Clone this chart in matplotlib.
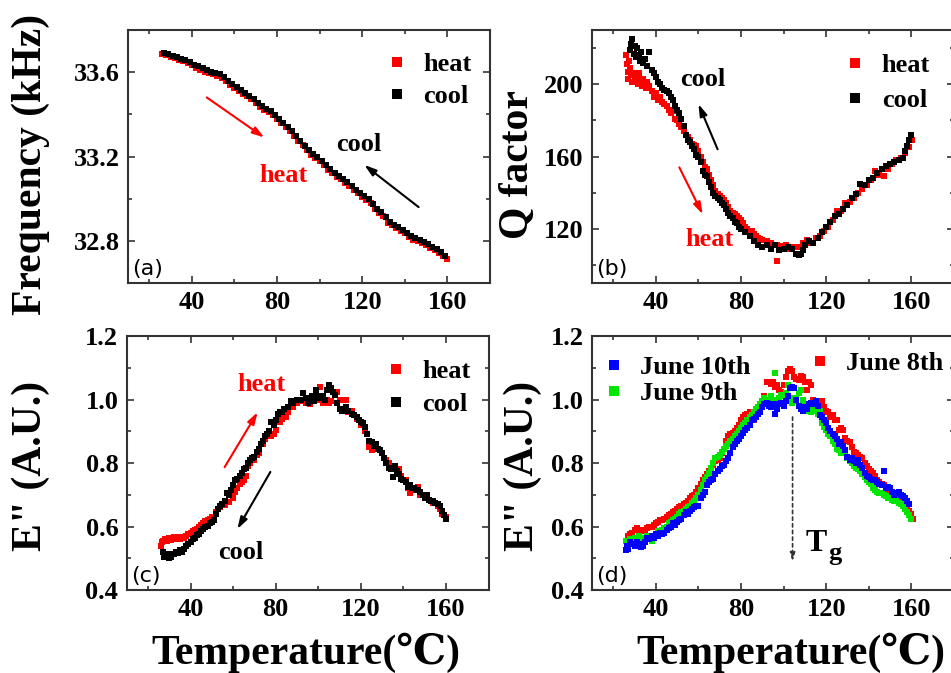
import matplotlib
matplotlib.use("Agg")
import matplotlib.pyplot as plt
from matplotlib.ticker import MultipleLocator

plt.rcParams["font.family"] = ["Liberation Serif", "DejaVu Serif", "DejaVu Sans"]
plt.rcParams["font.weight"] = "bold"

# ---- (a) resonance frequency, kHz ----
t_heat_a = [26, 28, 30, 32, 34, 36, 38, 40, 42, 44, 46, 48, 50, 52, 54, 56, 58, 60,
            62, 64, 66, 68, 70, 72, 74, 76, 78, 80, 82, 84, 86, 88, 90, 92, 94, 96,
            98, 100, 102, 104, 106, 108, 110, 112, 114, 116, 118, 120, 122, 124, 126,
            128, 130, 132, 134, 136, 138, 140, 142, 144, 146, 148, 150, 152, 154, 156,
            158, 160]
f_heat = [33.688, 33.681, 33.673, 33.666, 33.658, 33.651, 33.642, 33.632, 33.622,
          33.612, 33.603, 33.595, 33.589, 33.584, 33.574, 33.557, 33.540, 33.525,
          33.512, 33.498, 33.485, 33.471, 33.453, 33.436, 33.421, 33.413, 33.398,
          33.378, 33.358, 33.338, 33.319, 33.298, 33.275, 33.253, 33.231, 33.209,
          33.193, 33.181, 33.161, 33.138, 33.120, 33.103, 33.091, 33.075, 33.058,
          33.041, 33.025, 33.009, 32.995, 32.980, 32.953, 32.933, 32.920, 32.886,
          32.873, 32.859, 32.848, 32.836, 32.820, 32.806, 32.798, 32.790, 32.778,
          32.767, 32.755, 32.743, 32.728, 32.712]
t_cool_a = [27, 29, 31, 33, 35, 37, 39, 41, 43, 45, 47, 49, 51, 53, 55, 57, 59, 61,
            63, 65, 67, 69, 71, 73, 75, 77, 79, 81, 83, 85, 87, 89, 91, 93, 95, 97,
            99, 101, 103, 105, 107, 109, 111, 113, 115, 117, 119, 121, 123, 125, 127,
            129, 131, 133, 135, 137, 139, 141, 143, 145, 147, 149, 151, 153, 155, 157,
            159]
f_cool = [33.692, 33.686, 33.679, 33.671, 33.664, 33.656, 33.646, 33.636, 33.627,
          33.618, 33.609, 33.602, 33.597, 33.591, 33.578, 33.560, 33.543, 33.529,
          33.515, 33.501, 33.488, 33.472, 33.454, 33.438, 33.427, 33.416, 33.398,
          33.378, 33.358, 33.339, 33.319, 33.297, 33.274, 33.252, 33.230, 33.211,
          33.197, 33.181, 33.160, 33.140, 33.122, 33.107, 33.093, 33.077, 33.060,
          33.043, 33.027, 33.012, 32.998, 32.977, 32.953, 32.937, 32.913, 32.889,
          32.876, 32.864, 32.852, 32.838, 32.823, 32.812, 32.804, 32.794, 32.783,
          32.771, 32.759, 32.746, 32.730]

# ---- (b) Q factor ----
t_heat_b = [26, 26.5, 27, 27, 27.5, 28, 28.5, 29, 29.5, 30, 31, 31.5, 32, 33, 33.5, 34,
            35, 35.5, 36, 37, 38, 39, 40, 41, 42, 43, 44, 45, 46, 47, 48, 49, 50, 51,
            52, 53, 54, 55, 56, 57, 58, 59, 60, 61, 62, 63, 64, 65, 66, 67, 68, 69, 70,
            71, 72, 73, 74, 75, 76, 77, 78, 79, 80, 81, 82, 83, 84, 85, 86, 87, 88, 89,
            90, 92, 94, 96.7, 97, 99, 101, 103, 105, 107, 109, 111, 113, 115, 117, 119,
            121, 123, 125, 127, 129, 131, 133, 135, 137, 139, 141, 143, 145, 147, 149,
            151, 153, 155, 157, 159, 160.5]
q_heat = [216, 211, 207, 203, 213, 209, 205, 201, 206, 203, 204, 200, 206, 202, 199,
          203, 200, 198, 201, 199, 196, 193, 195, 191, 193, 190, 189, 188, 186, 184,
          185, 181, 180, 178, 176.5, 174, 172, 171, 169, 167, 166.5, 166, 163, 160,
          157, 154, 153, 150, 147, 144, 141, 139, 138, 137, 136, 134, 132, 130, 129,
          128, 127, 126, 125, 123, 121, 120, 119, 118.5, 117, 116, 115, 114.5, 114,
          113, 112, 102, 111, 110.5, 111, 109, 110, 110, 112, 114, 112, 115, 116, 119,
          121, 125, 130, 130, 134, 135, 137, 140, 142, 144, 147, 152, 150, 149, 153,
          156, 158, 159, 162, 165, 169]
t_cool_b = [28, 28.5, 29, 29.5, 30, 30.5, 31, 32, 32.5, 33, 34, 35, 36, 37, 38, 39, 40,
            41, 42, 43, 44, 45, 46, 47, 48, 49, 50, 51, 52, 53, 54, 55, 56, 57, 58, 59,
            60, 61, 62, 63, 64, 65, 66, 67, 68, 69, 70, 71, 72, 73, 74, 75, 76, 77, 78,
            79, 80, 82, 84, 86, 88, 90, 92, 94, 96, 98, 100, 102, 104, 106, 107, 108,
            109, 110, 112, 114, 116, 118, 120, 122, 124, 126, 128, 130, 132, 134, 136,
            138, 140, 142, 144, 146, 148, 150, 152, 154, 156, 157, 158, 159, 160]
q_cool = [219, 222, 225, 217, 221, 215, 220, 216, 213, 218, 212, 214, 210, 218, 208,
          206, 204, 201, 200, 198, 197, 196, 195, 193, 191, 188, 186, 184, 181, 177,
          172, 169, 168, 166, 164, 161, 160, 157, 152, 150, 149, 146, 143, 140, 138,
          137, 136, 134, 133, 131, 129, 127, 126, 124, 123, 121, 120, 118, 116, 113,
          111, 110, 111, 109, 111, 108, 109, 110, 109, 106, 105.5, 106, 108, 111, 113,
          112, 115, 118, 121, 124, 127, 128, 131, 133, 137, 139, 145, 144, 147, 148,
          151, 153, 155, 156, 157, 158, 159, 163, 166, 169, 172]

# ---- (c) loss modulus, heat / cool ----
t_heat_c = [26, 26.5, 27, 28, 29, 30, 31, 32, 33, 34, 35, 36, 37, 38, 39, 40, 41, 42,
            43, 44, 45, 46, 47, 48, 49, 50, 52, 54, 56, 58, 60, 61, 62, 63, 64, 65, 66,
            67, 68, 70, 71, 72, 74, 75, 76, 78, 79, 80, 82, 83, 84, 85, 86, 88, 90, 92,
            94, 96, 98, 100, 101, 102, 104, 105, 106, 108, 109, 110, 112, 113, 114, 116,
            117, 118, 120, 121, 122, 124, 125, 127, 128, 130, 132, 133, 135, 136, 138,
            139, 141, 142, 143, 145, 147, 148, 150, 151, 153, 154, 156, 157, 158, 159,
            160]
e_heat_c = [0.54, 0.55, 0.555, 0.56, 0.553, 0.565, 0.558, 0.567, 0.562, 0.566, 0.56,
            0.568, 0.565, 0.57, 0.575, 0.58, 0.586, 0.59, 0.593, 0.6, 0.605, 0.612,
            0.618, 0.62, 0.625, 0.63, 0.645, 0.66, 0.667, 0.678, 0.69, 0.71, 0.72,
            0.735, 0.74, 0.745, 0.76, 0.79, 0.8, 0.81, 0.825, 0.83, 0.86, 0.875, 0.885,
            0.885, 0.89, 0.905, 0.93, 0.94, 0.95, 0.945, 0.96, 0.975, 0.99, 0.995, 0.99,
            0.985, 0.995, 1.0, 1.04, 0.99, 1.0, 0.99, 0.995, 1.02, 1.025, 1.0, 0.97, 1.0,
            0.96, 0.965, 0.95, 0.94, 0.92, 0.92, 0.9, 0.85, 0.84, 0.86, 0.845, 0.83,
            0.81, 0.8, 0.79, 0.79, 0.78, 0.76, 0.745, 0.72, 0.705, 0.715, 0.725, 0.7,
            0.695, 0.69, 0.68, 0.675, 0.665, 0.655, 0.64, 0.635, 0.63]
t_cool_c = [27, 27.5, 28, 29, 30, 30.5, 31, 32, 33, 34, 35, 36, 37, 38, 39, 40, 41, 42,
            43, 44, 45, 46, 47, 48, 49, 50, 51, 52, 53, 54, 55, 56, 57, 58, 59, 60, 61,
            62, 63, 64, 65, 66, 67, 68, 69, 70, 71, 72, 73, 74, 75, 76, 77, 78, 79, 80,
            81, 82, 83, 84, 86, 87, 88, 90, 92, 93, 94, 95, 96, 97, 98, 99, 100, 101,
            102, 103, 104, 105, 106, 107, 108, 109, 110, 111, 113, 114, 116, 117, 118,
            119, 120, 121, 122, 123, 124, 125, 126, 127, 128, 129, 130, 131, 132, 133,
            134, 135, 136, 137, 138, 139, 140, 141, 142, 143, 144, 145, 146, 147, 148,
            149, 150, 151, 152, 153, 154, 155, 156, 157, 158, 159, 160]
e_cool_c = [0.52, 0.505, 0.515, 0.51, 0.5, 0.512, 0.505, 0.515, 0.52, 0.518, 0.525,
            0.52, 0.53, 0.54, 0.545, 0.55, 0.56, 0.565, 0.572, 0.578, 0.585, 0.592, 0.6,
            0.603, 0.61, 0.615, 0.622, 0.64, 0.655, 0.665, 0.67, 0.68, 0.705, 0.7,
            0.715, 0.73, 0.745, 0.75, 0.76, 0.77, 0.78, 0.785, 0.8, 0.81, 0.815, 0.82,
            0.835, 0.845, 0.86, 0.87, 0.885, 0.89, 0.9, 0.93, 0.92, 0.935, 0.955, 0.96,
            0.962, 0.97, 0.975, 0.995, 0.99, 1.0, 1.0, 1.02, 1.005, 0.99, 1.0, 1.01,
            0.995, 1.03, 1.01, 1.005, 1.01, 1.0, 1.03, 1.045, 1.035, 1.025, 1.015, 0.99,
            0.97, 0.965, 0.975, 0.965, 0.955, 0.95, 0.945, 0.935, 0.93, 0.925, 0.915,
            0.89, 0.87, 0.865, 0.855, 0.86, 0.845, 0.84, 0.83, 0.815, 0.8, 0.785, 0.78,
            0.755, 0.79, 0.775, 0.765, 0.75, 0.745, 0.74, 0.725, 0.73, 0.72, 0.72, 0.715,
            0.715, 0.71, 0.7, 0.69, 0.7, 0.685, 0.68, 0.68, 0.675, 0.67, 0.665, 0.65,
            0.635, 0.625]

# ---- (d) loss modulus on three days ----
t_jun10 = [26, 26.5, 27, 28, 29, 30, 31, 32, 33, 34, 35, 36, 37, 38, 39, 40, 41, 42, 43,
           44, 45, 46, 47, 48, 49, 50, 51, 52, 53, 54, 55, 56, 57, 58, 59, 60, 61, 62,
           63, 64, 65, 66, 67, 68, 69, 70, 71, 72, 73, 74, 75, 76, 77, 78, 79, 80, 81,
           82, 83, 84, 85, 86, 87, 88, 89, 90, 91, 92, 93, 94, 95, 96, 97, 98, 99, 100,
           101, 102, 103, 104, 105, 106, 107, 108, 109, 110, 111, 112, 113, 114, 115,
           116, 117, 118, 119, 120, 121, 122, 123, 124, 125, 126, 127, 128, 129, 130,
           131, 132, 133, 134, 135, 136, 137, 138, 139, 140, 141, 142, 143, 144, 145,
           146, 147, 148, 149, 150, 151, 152, 153, 154, 155, 156, 157, 158, 159]
e_jun10 = [0.525, 0.54, 0.53, 0.55, 0.545, 0.54, 0.55, 0.545, 0.535, 0.54, 0.55, 0.565,
           0.56, 0.57, 0.565, 0.575, 0.57, 0.58, 0.575, 0.58, 0.59, 0.595, 0.6, 0.61,
           0.605, 0.615, 0.62, 0.625, 0.635, 0.645, 0.64, 0.65, 0.655, 0.66, 0.665,
           0.665, 0.69, 0.7, 0.71, 0.73, 0.74, 0.745, 0.75, 0.765, 0.775, 0.78, 0.79,
           0.795, 0.805, 0.815, 0.83, 0.85, 0.86, 0.87, 0.875, 0.885, 0.895, 0.905,
           0.91, 0.92, 0.935, 0.94, 0.945, 0.955, 0.96, 0.975, 0.985, 0.99, 0.98, 0.975,
           0.985, 0.955, 0.97, 0.985, 0.99, 0.98, 0.995, 1.01, 1.035, 1.04, 1.035, 1.0,
           0.98, 0.97, 0.965, 0.975, 0.97, 0.985, 0.99, 0.985, 0.995, 0.98, 0.95, 0.945,
           0.935, 0.925, 0.91, 0.9, 0.89, 0.885, 0.875, 0.86, 0.865, 0.855, 0.84, 0.82,
           0.81, 0.815, 0.805, 0.8, 0.81, 0.795, 0.785, 0.77, 0.76, 0.755, 0.75, 0.745,
           0.745, 0.74, 0.735, 0.73, 0.775, 0.72, 0.725, 0.72, 0.71, 0.7, 0.705, 0.71,
           0.7, 0.695, 0.69, 0.68, 0.67]
t_jun9 = [26, 27, 28, 29, 30, 31, 32, 33, 34, 35, 36, 37, 38, 39, 40, 41, 42, 43, 44, 45,
          46, 47, 48, 49, 50, 51, 52, 53, 54, 55, 56, 57, 58, 59, 60, 61, 62, 63, 64, 65,
          66, 67, 68, 69, 70, 71, 72, 73, 74, 75, 76, 77, 78, 79, 80, 81, 82, 83, 84, 85,
          86, 87, 88, 89, 90, 91, 92, 93, 94, 95, 96, 97, 98, 99, 100, 101, 102, 103,
          104, 105, 106, 107, 108, 109, 110, 111, 112, 113, 114, 115, 116, 117, 118, 119,
          120, 121, 122, 123, 124, 125, 126, 127, 128, 129, 130, 131, 132, 133, 134, 135,
          136, 137, 138, 139, 140, 141, 142, 143, 144, 145, 146, 147, 148, 149, 150, 151,
          152, 153, 154, 155, 156, 157, 158, 159, 160]
e_jun9 = [0.555, 0.545, 0.56, 0.55, 0.565, 0.56, 0.57, 0.565, 0.56, 0.555, 0.57, 0.56,
          0.555, 0.57, 0.575, 0.585, 0.58, 0.59, 0.595, 0.6, 0.61, 0.615, 0.62, 0.625,
          0.63, 0.64, 0.645, 0.65, 0.655, 0.66, 0.665, 0.675, 0.68, 0.69, 0.7, 0.715,
          0.73, 0.745, 0.755, 0.77, 0.785, 0.8, 0.815, 0.82, 0.825, 0.835, 0.845, 0.855,
          0.86, 0.87, 0.875, 0.885, 0.89, 0.9, 0.91, 0.92, 0.925, 0.935, 0.945, 0.95,
          0.96, 0.97, 0.975, 0.985, 0.995, 1.005, 1.0, 0.995, 1.01, 1.0, 1.085, 1.0,
          1.005, 1.015, 1.01, 1.02, 1.045, 1.005, 0.99, 0.995, 1.005, 1.02, 1.03, 1.0,
          0.985, 0.975, 0.965, 0.96, 0.97, 0.965, 0.955, 0.965, 0.925, 0.915, 0.905,
          0.89, 0.885, 0.87, 0.86, 0.845, 0.84, 0.83, 0.835, 0.83, 0.815, 0.805, 0.8,
          0.79, 0.785, 0.78, 0.775, 0.765, 0.755, 0.745, 0.74, 0.735, 0.72, 0.715, 0.71,
          0.705, 0.705, 0.7, 0.695, 0.69, 0.69, 0.685, 0.68, 0.68, 0.675, 0.67, 0.665,
          0.655, 0.645, 0.635, 0.625]
t_jun8 = [27, 28, 29, 30, 31, 32, 33, 34, 35, 36, 37, 38, 39, 40, 41, 42, 43, 44, 45, 46,
          47, 48, 49, 50, 51, 52, 53, 54, 55, 56, 57, 58, 59, 60, 61, 62, 63, 64, 65, 66,
          67, 68, 69, 70, 71, 72, 73, 74, 75, 76, 77, 78, 79, 80, 81, 82, 83, 84, 85, 86,
          87, 88, 89, 90, 91, 92, 93, 94, 95, 96, 97, 98, 99, 100, 101, 102, 103, 104,
          105, 106, 107, 108, 109, 110, 111, 112, 113, 114, 115, 116, 117, 118, 119, 120,
          121, 122, 123, 124, 125, 126, 127, 128, 129, 130, 131, 132, 133, 134, 135, 136,
          137, 138, 139, 140, 141, 142, 143, 144, 145, 146, 147, 148, 149, 150, 151, 152,
          153, 154, 155, 156, 157, 158, 159, 160, 161]
e_jun8 = [0.57, 0.575, 0.58, 0.59, 0.595, 0.585, 0.59, 0.585, 0.59, 0.595, 0.6, 0.6,
          0.605, 0.61, 0.615, 0.62, 0.62, 0.625, 0.63, 0.635, 0.64, 0.645, 0.65, 0.655,
          0.66, 0.665, 0.67, 0.675, 0.68, 0.69, 0.695, 0.7, 0.71, 0.72, 0.735, 0.745,
          0.755, 0.765, 0.775, 0.785, 0.795, 0.805, 0.81, 0.815, 0.83, 0.845, 0.87,
          0.885, 0.89, 0.895, 0.9, 0.91, 0.92, 0.935, 0.945, 0.95, 0.955, 0.96, 0.945,
          0.935, 0.95, 0.97, 0.98, 0.995, 1.01, 1.055, 1.055, 1.05, 1.055, 1.04, 1.045,
          1.03, 1.025, 1.045, 1.07, 1.09, 1.095, 1.09, 1.07, 1.065, 1.06, 1.075, 1.07,
          1.055, 1.03, 1.055, 1.045, 1.0, 0.995, 0.99, 0.995, 0.995, 0.975, 0.965, 0.96,
          0.945, 0.95, 0.935, 0.935, 0.905, 0.91, 0.905, 0.88, 0.87, 0.865, 0.85, 0.835,
          0.83, 0.825, 0.82, 0.815, 0.8, 0.79, 0.78, 0.775, 0.77, 0.76, 0.745, 0.74,
          0.735, 0.73, 0.72, 0.715, 0.71, 0.7, 0.7, 0.695, 0.69, 0.685, 0.685, 0.675,
          0.665, 0.65, 0.64, 0.625]

RED, BLACK, BLUE, GREEN = "#ff0000", "#000000", "#0000ff", "#00e600"
MS = 4.6
TICK_FS = 19
LABEL_FS = 30
TEXT_FS = 19

fig = plt.figure(figsize=(9.51, 6.73), dpi=100)
ax_a = fig.add_axes([0.1346, 0.5795, 0.3806, 0.3759])
ax_b = fig.add_axes([0.6225, 0.5795, 0.3806, 0.3759])
ax_c = fig.add_axes([0.1332, 0.1233, 0.3806, 0.3774])
ax_d = fig.add_axes([0.6225, 0.1233, 0.3806, 0.3774])


def style(ax, ylim, ymajor, yminor, fmt):
    ax.set_xlim(10, 180)
    ax.set_ylim(*ylim)
    ax.xaxis.set_major_locator(MultipleLocator(40))
    ax.xaxis.set_minor_locator(MultipleLocator(20))
    ax.yaxis.set_major_locator(MultipleLocator(ymajor))
    ax.yaxis.set_minor_locator(MultipleLocator(yminor))
    ax.yaxis.set_major_formatter(fmt)
    ax.tick_params(which="both", direction="in", top=True, right=True,
                   labelsize=TICK_FS, width=1.2, colors="#333333",
                   labelcolor="black")
    ax.tick_params(which="major", length=5, pad=6)
    ax.tick_params(which="minor", length=3)
    for lbl in ax.get_xticklabels() + ax.get_yticklabels():
        lbl.set_fontweight("bold")
    for sp in ax.spines.values():
        sp.set_linewidth(1.5)
        sp.set_color("#333333")


def panel_tag(ax, tag):
    ax.text(0.012, 0.015, tag, transform=ax.transAxes, ha="left", va="bottom",
            fontsize=16, fontweight="normal", family="DejaVu Sans")


def arrow(ax, start, end, color):
    ax.annotate("", xy=end, xytext=start,
                arrowprops=dict(arrowstyle="-|>,head_length=0.7,head_width=0.22",
                                color=color, lw=1.5, shrinkA=0, shrinkB=0))


def legend(ax, loc, anchor, spacing=0.35, **kw):
    return ax.legend(loc=loc, bbox_to_anchor=anchor, frameon=False,
                     fontsize=TEXT_FS, markerscale=1.6, handlelength=0.8,
                     handletextpad=0.6, labelspacing=spacing, borderpad=0.2, **kw)


def ylabel(ax, text, x, y):
    ax.set_ylabel(text, fontsize=LABEL_FS, fontweight="bold")
    ax.yaxis.set_label_coords(x, y)


# (a)
ax_a.plot(t_heat_a, f_heat, "s", color=RED, ms=MS, mew=0, label="heat")
ax_a.plot(t_cool_a, f_cool, "s", color=BLACK, ms=MS, mew=0, label="cool")
style(ax_a, (32.6, 33.8), 0.4, 0.2, "{x:.1f}")
legend(ax_a, "upper right", (1.0, 0.985))
arrow(ax_a, (47, 33.48), (74, 33.29), RED)
ax_a.text(83, 33.11, "heat", color=RED, fontsize=TEXT_FS, ha="center", va="center")
arrow(ax_a, (146.5, 32.96), (121, 33.16), BLACK)
ax_a.text(118.5, 33.255, "cool", color=BLACK, fontsize=TEXT_FS, ha="center", va="center")
ylabel(ax_a, "Frequency (kHz)", -0.215, 0.47)
panel_tag(ax_a, "(a)")

# (b)
ax_b.plot(t_heat_b, q_heat, "s", color=RED, ms=MS, mew=0, label="heat")
ax_b.plot(t_cool_b, q_cool, "s", color=BLACK, ms=MS, mew=0, label="cool")
style(ax_b, (90, 230), 40, 20, "{x:.0f}")
legend(ax_b, "upper right", (0.985, 0.98), spacing=0.45)
arrow(ax_b, (69, 164), (60, 189), BLACK)
ax_b.text(62, 202.5, "cool", color=BLACK, fontsize=TEXT_FS, ha="center", va="center")
arrow(ax_b, (51, 154), (62, 128), RED)
ax_b.text(65, 114, "heat", color=RED, fontsize=TEXT_FS, ha="center", va="center")
ylabel(ax_b, "Q factor", -0.152, 0.47)
panel_tag(ax_b, "(b)")

# (c)
ax_c.plot(t_heat_c, e_heat_c, "s", color=RED, ms=MS, mew=0, label="heat")
ax_c.plot(t_cool_c, e_cool_c, "s", color=BLACK, ms=MS, mew=0, label="cool")
style(ax_c, (0.4, 1.2), 0.2, 0.1, "{x:.1f}")
legend(ax_c, "upper right", (1.0, 0.98))
arrow(ax_c, (56, 0.787), (71.5, 0.96), RED)
ax_c.text(73.5, 1.046, "heat", color=RED, fontsize=TEXT_FS, ha="center", va="center")
arrow(ax_c, (77.5, 0.772), (62, 0.592), BLACK)
ax_c.text(63.5, 0.517, "cool", color=BLACK, fontsize=TEXT_FS, ha="center", va="center")
ylabel(ax_c, 'E" (A.U.)', -0.212, 0.49)
panel_tag(ax_c, "(c)")

# (d)
h8, = ax_d.plot(t_jun8, e_jun8, "s", color=RED, ms=MS, mew=0, label="June 8th")
h9, = ax_d.plot(t_jun9, e_jun9, "s", color=GREEN, ms=MS, mew=0, label="June 9th")
h10, = ax_d.plot(t_jun10, e_jun10, "s", color=BLUE, ms=MS, mew=0, label="June 10th")
style(ax_d, (0.4, 1.2), 0.2, 0.1, "{x:.1f}")
leg_left = legend(ax_d, "upper left", (-0.02, 0.995), spacing=0.08, handles=[h10, h9])
ax_d.add_artist(leg_left)
legend(ax_d, "upper left", (0.55, 1.01), handles=[h8])
ax_d.annotate("", xy=(104.2, 0.49), xytext=(104.2, 0.945),
              arrowprops=dict(arrowstyle="-|>,head_length=0.5,head_width=0.15",
                              color="#333333", lw=1.2, linestyle=(0, (2, 2)),
                              shrinkA=0, shrinkB=0))
ax_d.text(110.5, 0.545, "T", fontsize=23, ha="left", va="center")
ax_d.text(121, 0.515, "g", fontsize=19, ha="left", va="center")
ylabel(ax_d, 'E" (A.U.)', -0.138, 0.49)
panel_tag(ax_d, "(d)")

fig.text(0.322, 0.03, "Temperature(\u2103)", fontsize=LABEL_FS, fontweight="bold",
         ha="center", va="center")
fig.text(0.832, 0.03, "Temperature(\u2103)", fontsize=LABEL_FS, fontweight="bold",
         ha="center", va="center")

fig.savefig("out.png", dpi=100)
